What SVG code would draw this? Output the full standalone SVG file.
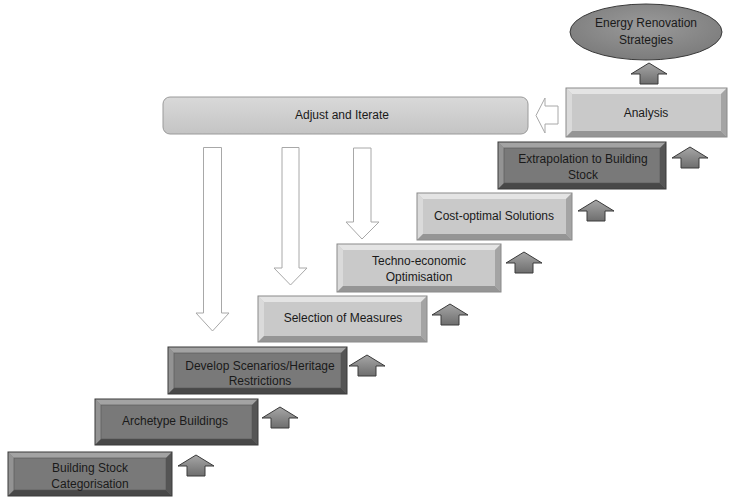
<svg xmlns="http://www.w3.org/2000/svg" xmlns:xlink="http://www.w3.org/1999/xlink" width="730" height="499" viewBox="0 0 730 499">
  <defs>
    <linearGradient id="upFill" x1="0" y1="0" x2="0" y2="1">
      <stop offset="0" stop-color="#a6a6a6"/>
      <stop offset="1" stop-color="#6e6e6e"/>
    </linearGradient>
    <linearGradient id="pillFill" x1="0" y1="0" x2="0" y2="1">
      <stop offset="0" stop-color="#d9d9d9"/>
      <stop offset="1" stop-color="#c4c4c4"/>
    </linearGradient>
    <radialGradient id="ellFill" cx="0.5" cy="0.4" r="0.6">
      <stop offset="0" stop-color="#9a9a9a"/>
      <stop offset="1" stop-color="#7c7c7c"/>
    </radialGradient>
    <!-- small block arrow pointing up, 36 x 21 -->
    <path id="up" d="M18,0 L36,11 L27,11 L27,21 L9,21 L9,11 L0,11 Z"/>
  </defs>
  <style>
    .txt { font-family: "Liberation Sans", Arial, sans-serif; font-size: 12px; fill: #1a1a1a; text-anchor: middle; dominant-baseline: central; }
    .d-mid { fill: #797979; }
    .d-top { fill: #a3a3a3; }
    .d-left { fill: #939393; }
    .d-right { fill: #555555; }
    .d-bot { fill: #484848; }
    .l-mid { fill: #c9c9c9; }
    .l-top { fill: #e4e4e4; }
    .l-left { fill: #dadada; }
    .l-right { fill: #a4a4a4; }
    .l-bot { fill: #959595; }
    .outline { fill: none; stroke: #3a3a3a; stroke-width: 1; }
    .outline-l { fill: none; stroke: #8a8a8a; stroke-width: 1; }
    .inner { fill: none; stroke: #555; stroke-width: 0.6; }
    .hollow { fill: #ffffff; stroke: #a8a8a8; stroke-width: 1; }
    .uparrow { fill: url(#upFill); stroke: #3a3a3a; stroke-width: 1; }
  </style>

  <rect width="730" height="499" fill="#ffffff"/>

  <!-- connectors -->
  <g id="connectors">
    <!-- feedback arrows from the iteration bar -->
    <path class="hollow" d="M558,106 L545,106 L545,98 L536,115.5 L545,133 L545,124 L558,124 Z"/>
    <path class="hollow" d="M203.5,147.5 L221.5,147.5 L221.5,313 L229,313 L212.5,331 L196,313 L203.5,313 Z"/>
    <path class="hollow" d="M282,147.5 L299,147.5 L299,268 L307,268 L290.5,285 L274,268 L282,268 Z"/>
    <path class="hollow" d="M353.5,148 L371,148 L371,222 L379,222 L362,239 L346,222 L353.5,222 Z"/>
    <!-- step-up arrows -->
    <use href="#up" class="uparrow" x="178" y="455"/>
    <use href="#up" class="uparrow" x="262" y="407"/>
    <use href="#up" class="uparrow" x="349" y="355"/>
    <use href="#up" class="uparrow" x="432" y="304"/>
    <use href="#up" class="uparrow" x="506" y="252"/>
    <use href="#up" class="uparrow" x="578" y="200"/>
    <use href="#up" class="uparrow" x="672" y="147"/>
    <use href="#up" class="uparrow" x="631" y="63"/>
  </g>

  <!-- Building Stock Categorisation -->
  <g id="n1">
    <rect class="d-mid" x="8" y="452" width="164" height="44"/>
    <polygon class="d-top" points="8,452 172,452 166,458 14,458"/>
    <polygon class="d-left" points="8,452 14,458 14,490 8,496"/>
    <polygon class="d-right" points="172,452 172,496 166,490 166,458"/>
    <polygon class="d-bot" points="8,496 14,490 166,490 172,496"/>
    <rect class="inner" x="14" y="458" width="152" height="32"/>
    <rect class="outline" x="8" y="452" width="164" height="44"/>
    <text class="txt" x="90" y="468">Building Stock</text>
    <text class="txt" x="90" y="484">Categorisation</text>
  </g>

  <!-- Archetype Buildings -->
  <g id="n2">
    <rect class="d-mid" x="95" y="399" width="163" height="46"/>
    <polygon class="d-top" points="95,399 258,399 252,405 101,405"/>
    <polygon class="d-left" points="95,399 101,405 101,439 95,445"/>
    <polygon class="d-right" points="258,399 258,445 252,439 252,405"/>
    <polygon class="d-bot" points="95,445 101,439 252,439 258,445"/>
    <rect class="inner" x="101" y="405" width="151" height="34"/>
    <rect class="outline" x="95" y="399" width="163" height="46"/>
    <text class="txt" x="175" y="421">Archetype Buildings</text>
  </g>

  <!-- Develop Scenarios/Heritage Restrictions -->
  <g id="n3">
    <rect class="d-mid" x="168" y="347" width="179" height="47"/>
    <polygon class="d-top" points="168,347 347,347 341,353 174,353"/>
    <polygon class="d-left" points="168,347 174,353 174,388 168,394"/>
    <polygon class="d-right" points="347,347 347,394 341,388 341,353"/>
    <polygon class="d-bot" points="168,394 174,388 341,388 347,394"/>
    <rect class="inner" x="174" y="353" width="167" height="35"/>
    <rect class="outline" x="168" y="347" width="179" height="47"/>
    <text class="txt" x="260" y="366">Develop Scenarios/Heritage</text>
    <text class="txt" x="260" y="381">Restrictions</text>
  </g>

  <!-- Selection of Measures -->
  <g id="n4">
    <rect class="l-mid" x="258" y="296" width="169" height="46"/>
    <polygon class="l-top" points="258,296 427,296 421,302 264,302"/>
    <polygon class="l-left" points="258,296 264,302 264,336 258,342"/>
    <polygon class="l-right" points="427,296 427,342 421,336 421,302"/>
    <polygon class="l-bot" points="258,342 264,336 421,336 427,342"/>
    <rect class="outline-l" x="258" y="296" width="169" height="46"/>
    <text class="txt" x="343" y="318">Selection of Measures</text>
  </g>

  <!-- Techno-economic Optimisation -->
  <g id="n5">
    <rect class="l-mid" x="337" y="244" width="164" height="48"/>
    <polygon class="l-top" points="337,244 501,244 495,250 343,250"/>
    <polygon class="l-left" points="337,244 343,250 343,286 337,292"/>
    <polygon class="l-right" points="501,244 501,292 495,286 495,250"/>
    <polygon class="l-bot" points="337,292 343,286 495,286 501,292"/>
    <rect class="outline-l" x="337" y="244" width="164" height="48"/>
    <text class="txt" x="419" y="261">Techno-economic</text>
    <text class="txt" x="419" y="277">Optimisation</text>
  </g>

  <!-- Cost-optimal Solutions -->
  <g id="n6">
    <rect class="l-mid" x="417" y="193" width="155" height="47"/>
    <polygon class="l-top" points="417,193 572,193 566,199 423,199"/>
    <polygon class="l-left" points="417,193 423,199 423,234 417,240"/>
    <polygon class="l-right" points="572,193 572,240 566,234 566,199"/>
    <polygon class="l-bot" points="417,240 423,234 566,234 572,240"/>
    <rect class="outline-l" x="417" y="193" width="155" height="47"/>
    <text class="txt" x="494" y="216">Cost-optimal Solutions</text>
  </g>

  <!-- Extrapolation to Building Stock -->
  <g id="n7">
    <rect class="d-mid" x="498" y="142" width="168" height="47"/>
    <polygon class="d-top" points="498,142 666,142 660,148 504,148"/>
    <polygon class="d-left" points="498,142 504,148 504,183 498,189"/>
    <polygon class="d-right" points="666,142 666,189 660,183 660,148"/>
    <polygon class="d-bot" points="498,189 504,183 660,183 666,189"/>
    <rect class="inner" x="504" y="148" width="156" height="35"/>
    <rect class="outline" x="498" y="142" width="168" height="47"/>
    <text class="txt" x="583" y="159">Extrapolation to Building</text>
    <text class="txt" x="583" y="175">Stock</text>
  </g>

  <!-- Analysis -->
  <g id="n8">
    <rect class="l-mid" x="566" y="88" width="161" height="49"/>
    <polygon class="l-top" points="566,88 727,88 721,94 572,94"/>
    <polygon class="l-left" points="566,88 572,94 572,131 566,137"/>
    <polygon class="l-right" points="727,88 727,137 721,131 721,94"/>
    <polygon class="l-bot" points="566,137 572,131 721,131 727,137"/>
    <rect class="outline-l" x="566" y="88" width="161" height="49"/>
    <text class="txt" x="646" y="113">Analysis</text>
  </g>

  <!-- Energy Renovation Strategies -->
  <g id="n9">
    <ellipse cx="646" cy="32" rx="76" ry="28" fill="url(#ellFill)" stroke="#3a3a3a" stroke-width="1"/>
    <text class="txt" x="646" y="23">Energy Renovation</text>
    <text class="txt" x="646" y="40">Strategies</text>
  </g>

  <!-- Adjust and Iterate -->
  <g id="n10">
    <rect x="163" y="97" width="365" height="37" rx="7" fill="url(#pillFill)" stroke="#9a9a9a" stroke-width="1"/>
    <text class="txt" x="342" y="115">Adjust and Iterate</text>
  </g>
</svg>
